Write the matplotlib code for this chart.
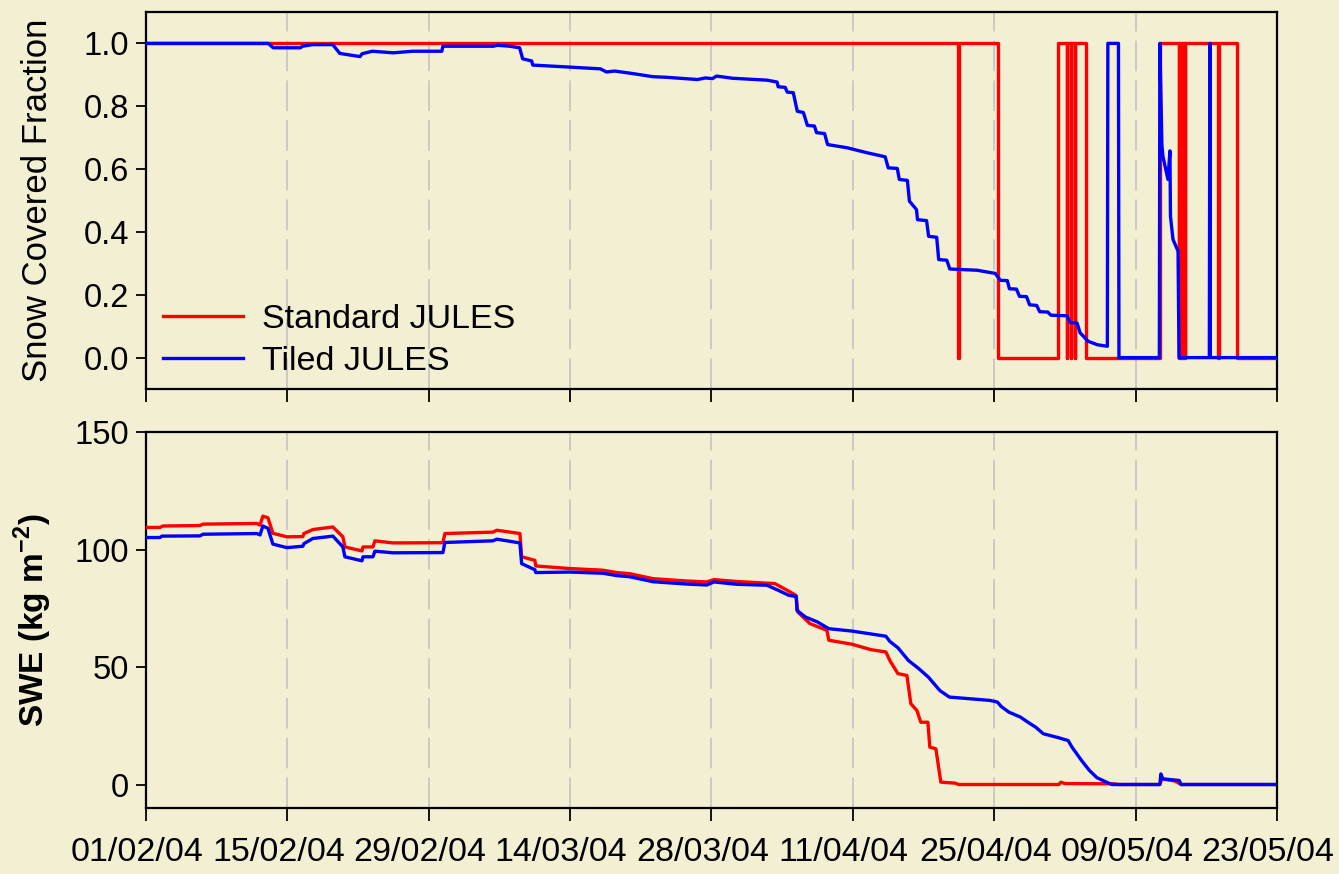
import numpy as np
import matplotlib
matplotlib.use("Agg")
import matplotlib.pyplot as plt
import matplotlib.transforms as mtransforms
from datetime import datetime, timedelta

# days since 01/02/2004
start = datetime(2004, 2, 1)
tick_days = [0, 14, 28, 42, 56, 70, 84, 98, 112]
tick_labels = [(start + timedelta(days=d)).strftime("%d/%m/%y") for d in tick_days]

# snow covered fraction, standard JULES (on/off switch, steps-post)
scf_std_t = [0, 80.45, 80.5, 84.36, 90.3, 91.2, 91.25, 91.6, 91.65, 91.95, 92.0, 93.07,
             100.4, 102.25, 102.3, 102.4, 102.45, 102.55, 102.6, 102.7, 102.75, 102.85,
             102.9, 106.2, 106.25, 108.0, 112]
scf_std_v = [1, 0, 1, 0, 1, 0, 1, 0, 1, 0, 1, 0,
             1, 0, 1, 0, 1, 0, 1, 0, 1, 0,
             1, 0, 1, 0, 0]

# snow covered fraction, tiled JULES
scf_tile_t = [0, 12.1, 12.6, 15.3, 15.5, 16.5, 18.5, 19.2, 21.2, 21.4, 22.4, 24.5, 26.4,
              29.3, 29.4, 34.4, 34.8, 36.0, 37.0, 37.3, 38.2, 38.3, 41.7, 45.0, 45.6,
              46.4, 48.2, 50.2, 51.6, 54.6, 55.4, 56.1, 56.5, 58.1, 61.5, 62.5, 62.6,
              63.3, 63.5, 64.1, 64.5, 65.1, 65.5, 66.2, 66.4, 67.2, 67.5, 69.4, 71.4,
              73.2, 73.5, 74.4, 74.6, 75.4, 75.6, 76.3, 76.4, 77.3, 77.5, 78.3, 78.5,
              79.3, 79.6, 82.3, 84.1, 84.6, 85.3, 85.5, 86.2, 86.5, 87.2, 87.5, 88.2,
              88.5, 89.3, 89.6, 91.2, 91.5, 92.2, 92.5, 93.3, 94.2, 95.2, 95.25, 96.3,
              96.35, 100.35, 100.4, 100.6, 100.7, 101.2, 101.4, 101.45, 101.7, 102.2,
              102.3, 105.3, 105.35, 105.4, 112]
scf_tile_v = [1.0, 1.0, 0.986, 0.986, 0.991, 0.996, 0.996, 0.968, 0.958, 0.967, 0.975,
              0.97, 0.975, 0.975, 0.991, 0.991, 0.994, 0.991, 0.986, 0.951, 0.944, 0.931,
              0.925, 0.919, 0.909, 0.912, 0.904, 0.894, 0.892, 0.885, 0.89, 0.888, 0.896,
              0.889, 0.883, 0.877, 0.862, 0.86, 0.845, 0.843, 0.784, 0.78, 0.739, 0.737,
              0.716, 0.713, 0.678, 0.668, 0.652, 0.639, 0.604, 0.602, 0.567, 0.564, 0.498,
              0.471, 0.439, 0.436, 0.386, 0.383, 0.312, 0.31, 0.282, 0.278, 0.268, 0.246,
              0.245, 0.219, 0.218, 0.195, 0.194, 0.168, 0.166, 0.146, 0.145, 0.135, 0.133,
              0.112, 0.11, 0.079, 0.052, 0.041, 0.036, 1.0, 1.0, 0.0, 0.0, 1.0, 0.678,
              0.641, 0.567, 0.658, 0.45, 0.376, 0.339, 0.0, 0.0, 1.0, 0.0, 0.0]

# snow water equivalent (kg m-2), standard JULES
swe_std_t = [0, 1.39, 1.68, 5.35, 5.64, 10.99, 11.29, 11.58, 12.08, 12.57, 13.96, 15.54,
             15.64, 16.53, 18.51, 19.5, 19.7, 21.39, 21.49, 22.48, 22.67, 24.46, 29.41,
             29.6, 34.36, 34.75, 37.03, 37.2, 38.51, 38.6, 41.98, 45.25, 46.63, 47.92,
             50.2, 53.56, 55.54, 56.24, 58.51, 62.28, 63.47, 64.36, 64.55, 65.74, 67.43,
             67.62, 69.9, 71.78, 73.27, 73.66, 74.46, 75.35, 75.74, 76.34, 76.73, 77.43,
             77.62, 78.22, 78.71, 80.1, 80.5, 90.4, 90.6, 91.0, 95.9, 96.3, 100.4, 100.6,
             101.9, 102.5, 112]
swe_std_v = [109.4, 109.4, 110.0, 110.2, 110.8, 111.1, 110.4, 114.2, 113.5, 106.9, 105.4,
             105.5, 106.8, 108.5, 109.6, 105.4, 101.1, 99.4, 101.1, 101.1, 103.7, 102.8,
             102.9, 106.8, 107.4, 108.2, 106.8, 96.9, 95.4, 93.0, 91.9, 91.2, 90.2, 89.7,
             87.6, 86.6, 86.2, 87.2, 86.4, 85.5, 82.7, 80.5, 73.4, 68.5, 65.6, 61.4, 59.7,
             57.4, 56.4, 52.8, 47.2, 46.4, 34.4, 31.5, 26.5, 26.5, 15.9, 15.2, 1.0, 0.6,
             0.0, 0.0, 1.0, 0.4, 0.3, 0.0, 0.0, 2.4, 1.5, 0.0, 0.0]

# snow water equivalent (kg m-2), tiled JULES
swe_tile_t = [0, 1.39, 1.58, 5.35, 5.64, 10.99, 11.29, 11.58, 12.08, 12.57, 13.96, 15.54,
              15.64, 16.53, 18.51, 19.5, 19.7, 21.39, 21.49, 22.48, 22.67, 24.46, 29.41,
              29.6, 34.36, 34.75, 37.03, 37.2, 38.51, 38.6, 41.98, 45.25, 46.63, 47.92,
              50.2, 53.56, 55.54, 56.24, 58.51, 61.49, 62.58, 63.66, 64.4, 64.46, 65.3,
              66.48, 67.62, 69.9, 73.27, 73.66, 74.46, 75.5, 76.53, 77.48, 78.61, 79.56,
              83.55, 84.31, 84.69, 85.45, 86.59, 87.34, 88.1, 88.86, 90.38, 91.32, 91.7,
              92.65, 93.42, 94.17, 95.31, 95.68, 100.4, 100.5, 100.69, 102.32, 102.5, 112]
swe_tile_v = [105.1, 105.1, 105.7, 105.8, 106.5, 106.8, 106.2, 110.0, 109.0, 102.3, 100.8,
              101.4, 102.5, 104.7, 105.7, 101.1, 96.9, 95.2, 96.9, 96.9, 99.3, 98.6, 98.7,
              103.0, 103.7, 104.4, 102.8, 94.0, 91.4, 90.2, 90.4, 89.9, 88.9, 88.4, 86.3,
              85.3, 84.9, 86.2, 85.2, 84.8, 82.7, 80.5, 80.0, 74.1, 71.3, 69.2, 66.3, 65.3,
              63.1, 60.9, 58.2, 52.8, 49.3, 45.7, 40.0, 37.2, 35.8, 35.1, 33.2, 30.8, 28.7,
              26.5, 24.4, 21.6, 19.9, 18.7, 15.9, 10.2, 6.0, 2.9, 0.6, 0.0, 0.0, 4.5, 2.4,
              1.7, 0.0, 0.0]

bg = "#F2EFD2"
plt.rcParams["font.family"] = ["Liberation Sans", "DejaVu Sans"]
plt.rcParams["mathtext.fontset"] = "custom"
plt.rcParams["mathtext.rm"] = "Liberation Sans"
plt.rcParams["mathtext.bf"] = "Liberation Sans:bold"

fig = plt.figure(figsize=(13.39, 8.74), dpi=100, facecolor=bg)
ax1 = fig.add_axes([0.109, 0.5549, 0.8447, 0.4314], facecolor=bg)
ax2 = fig.add_axes([0.109, 0.0755, 0.8447, 0.4302], facecolor=bg)

lw = 2.4
ax1.plot(scf_std_t, scf_std_v, color="#FF0000", lw=lw, drawstyle="steps-post",
         label="Standard JULES", zorder=3)
ax1.plot(scf_tile_t, scf_tile_v, color="#0000FF", lw=lw, label="Tiled JULES", zorder=4)
ax2.plot(swe_std_t, swe_std_v, color="#FF0000", lw=lw, zorder=3)
ax2.plot(swe_tile_t, swe_tile_v, color="#0000FF", lw=lw, zorder=4)

for ax in (ax1, ax2):
    ax.set_xlim(0, 112)
    ax.set_xticks(tick_days)
    for d in tick_days[1:-1]:
        ax.axvline(d, color="#C0C0C0", lw=1.1, dashes=(20, 6), zorder=1)
    for s in ax.spines.values():
        s.set_linewidth(1.6)
    ax.tick_params(axis="x", direction="out", length=9, width=1.3, pad=12, labelsize=24.5)
    ax.tick_params(axis="y", direction="out", length=7, width=1.3, pad=5, labelsize=23.5)

ax1.set_ylim(-0.1, 1.1)
ax1.set_yticks([0.0, 0.2, 0.4, 0.6, 0.8, 1.0])
ax1.set_yticklabels(["%.1f" % v for v in [0.0, 0.2, 0.4, 0.6, 0.8, 1.0]])
ax1.set_xticklabels([])
ax1.set_ylabel("Snow Covered Fraction", fontsize=25)
ax1.yaxis.set_label_coords(-0.081, 0.5)

ax2.set_ylim(-10, 150)
ax2.set_yticks([0, 50, 100, 150])
ax2.set_xticklabels(tick_labels)
shift = mtransforms.ScaledTranslation(-9 / 100, 0, fig.dpi_scale_trans)
for lab in ax2.get_xticklabels():
    lab.set_transform(lab.get_transform() + shift)
ax2.set_ylabel(r"SWE (kg m$^{\mathbf{-2}}$)", fontsize=24, fontweight="bold")
ax2.yaxis.set_label_coords(-0.081, 0.5)

ax1.legend(loc="lower left", bbox_to_anchor=(0.006, 0.006), frameon=False, fontsize=24.5,
           handlelength=2.35, handletextpad=0.55, labelspacing=0.32, borderpad=0.3,
           borderaxespad=0)

fig.savefig("out.png", dpi=100, facecolor=bg)
